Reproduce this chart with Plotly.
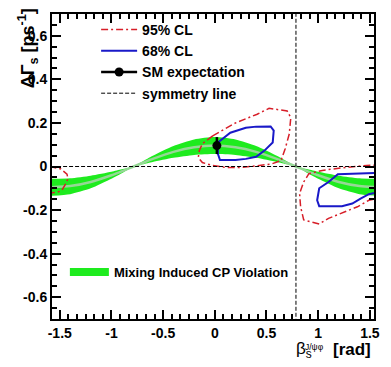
import plotly.graph_objects as go

# ---- data ----
beta_band = [-1.6, -1.4, -1.2, -1.0, -0.9, -0.785, -0.7, -0.6, -0.4, -0.2, 0.0,
             0.2, 0.4, 0.6, 0.7, 0.785, 0.9, 1.0, 1.2, 1.4, 1.6]
band_upper = [-0.057, -0.054, -0.042, -0.024, -0.013, 0.0, 0.023, 0.049, 0.094, 0.124, 0.135,
              0.124, 0.094, 0.049, 0.023, 0.0, -0.013, -0.024, -0.042, -0.054, -0.057]
band_lower = [-0.135, -0.127, -0.100, -0.056, -0.031, 0.0, 0.010, 0.021, 0.040, 0.053, 0.057,
              0.053, 0.040, 0.021, 0.010, 0.0, -0.031, -0.056, -0.100, -0.127, -0.135]
band_center = [-0.096, -0.090, -0.071, -0.040, -0.022, 0.0, 0.016, 0.035, 0.067, 0.088, 0.096,
               0.088, 0.067, 0.035, 0.016, 0.0, -0.022, -0.040, -0.071, -0.090, -0.096]

cl68_x = [0.03, 0.15, 0.30, 0.40, 0.54, 0.57, 0.56, 0.48, 0.40, 0.30, 0.20, 0.05, 0.03, 0.03, None,
          1.65, 1.49, 1.19, 1.10, 1.01, 0.99, 1.01, 1.23, 1.33, 1.41, 1.49, 1.65]
cl68_y = [0.11, 0.155, 0.178, 0.183, 0.184, 0.165, 0.11, 0.073, 0.045, 0.035, 0.030, 0.030, 0.058, 0.11, None,
          -0.028, -0.030, -0.036, -0.071, -0.10, -0.155, -0.182, -0.182, -0.17, -0.147, -0.127, -0.11]

cl95_x = [-0.02, 0.10, 0.20, 0.41, 0.525, 0.70, 0.735, 0.72, 0.68, 0.64, 0.55, 0.40, 0.24, 0.11,
          -0.025, -0.12, -0.16, -0.15, -0.12, -0.02, None,
          1.65, 1.47, 1.23, 1.04, 0.91, 0.86, 0.82, 0.83, 0.86, 1.01, 1.10, 1.26, 1.38, 1.49, 1.65, None,
          -1.60, -1.49, -1.43, -1.42, -1.45, -1.48, -1.52, -1.65]
cl95_y = [0.141, 0.175, 0.20, 0.24, 0.267, 0.255, 0.224, 0.149, 0.08, 0.027, 0.012, 0.003, -0.005, -0.005,
          0.005, 0.018, 0.041, 0.073, 0.105, 0.141, None,
          0.008, 0.005, -0.006, -0.018, -0.033, -0.071, -0.124, -0.185, -0.245, -0.264, -0.238, -0.208, -0.185, -0.155, -0.14, None,
          0.0, -0.011, -0.035, -0.056, -0.086, -0.109, -0.118, -0.125]

sm_beta = [0.02]
sm_dgamma = [0.096]
sm_err = [0.039]

sym_beta = 0.785
sym_x = [sym_beta, sym_beta, None, -1.7, 1.7]
sym_y = [-0.8, 0.8, None, 0.0, 0.0]

x_tickvals = [-1.5, -1.0, -0.5, 0.0, 0.5, 1.0, 1.5]
x_ticktext = ["-1.5", "-1", "-0.5", "0", "0.5", "1", "1.5"]
y_tickvals = [-0.6, -0.4, -0.2, 0.0, 0.2, 0.4, 0.6]
y_ticktext = ["-0.6", "-0.4", "-0.2", "0", "0.2", "0.4", "0.6"]

GREEN = "rgb(30,235,30)"
RED = "rgb(215,30,40)"
BLUE = "rgb(25,25,200)"
FONT = "Liberation Sans, Arial, sans-serif"

fig = go.Figure()

# band
fig.add_trace(go.Scatter(x=beta_band, y=band_upper, mode="lines",
                         line=dict(color=GREEN, width=0, shape="spline", smoothing=0.6),
                         showlegend=False, hoverinfo="skip"))
fig.add_trace(go.Scatter(x=beta_band, y=band_lower, mode="lines", fill="tonexty",
                         fillcolor=GREEN,
                         line=dict(color=GREEN, width=0, shape="spline", smoothing=0.6),
                         showlegend=False, hoverinfo="skip"))
fig.add_trace(go.Scatter(x=beta_band, y=band_center, mode="lines",
                         line=dict(color="rgb(150,215,150)", width=2.5, shape="spline", smoothing=0.6),
                         showlegend=False, hoverinfo="skip"))

# contours
fig.add_trace(go.Scatter(x=cl95_x, y=cl95_y, mode="lines", name="95% CL",
                         line=dict(color=RED, width=1.5, dash="7px,3px,2px,3px"),
                         legend="legend"))
fig.add_trace(go.Scatter(x=cl68_x, y=cl68_y, mode="lines", name="68% CL",
                         line=dict(color=BLUE, width=2), legend="legend"))

# SM expectation
fig.add_trace(go.Scatter(x=sm_beta, y=sm_dgamma, mode="lines+markers", name="SM expectation",
                         line=dict(color="black", width=2.5),
                         marker=dict(color="black", size=9),
                         error_y=dict(type="data", array=sm_err, color="black", thickness=2.5, width=0),
                         legend="legend"))

# symmetry line
fig.add_trace(go.Scatter(x=sym_x, y=sym_y, mode="lines", name="symmetry line",
                         line=dict(color="black", width=1, dash="4px,2px"), legend="legend"))

# legend-only entry for the band
fig.add_trace(go.Scatter(x=[None], y=[None], mode="lines", name="Mixing Induced CP Violation",
                         line=dict(color=GREEN, width=8), legend="legend2"))

axis_common = dict(showline=True, linewidth=2, linecolor="black", mirror="allticks",
                   ticks="inside", ticklen=9, tickwidth=1.5, tickcolor="black",
                   showgrid=False, zeroline=False,
                   tickfont=dict(family=FONT, size=14, color="black", weight="bold"))

fig.update_xaxes(range=[-1.575, 1.54], tickmode="array", tickvals=x_tickvals, ticktext=x_ticktext,
                 minor=dict(ticks="inside", ticklen=5, tickwidth=1.5, tickcolor="black",
                            dtick=1/12, tick0=0, showgrid=False),
                 **axis_common)
fig.update_yaxes(range=[-0.7, 0.7], tickmode="array", tickvals=y_tickvals, ticktext=y_ticktext,
                 minor=dict(ticks="inside", ticklen=5, tickwidth=1.5, tickcolor="black",
                            dtick=0.05, tick0=0, showgrid=False),
                 **axis_common)

fig.update_layout(
    width=383, height=359,
    margin=dict(l=44, r=17, t=4, b=48),
    paper_bgcolor="white", plot_bgcolor="white",
    font=dict(family=FONT, color="black"),
    legend=dict(x=0.137, y=1.0, xanchor="left", yanchor="top", traceorder="normal",
                itemwidth=36,
                bgcolor="rgba(0,0,0,0)", borderwidth=0, tracegroupgap=0,
                font=dict(family=FONT, size=14, color="black", weight="bold")),
    legend2=dict(x=0.04, y=0.203, xanchor="left", yanchor="top", itemwidth=39,
                 bgcolor="rgba(0,0,0,0)", borderwidth=0,
                 font=dict(family=FONT, size=13, color="black", weight="bold")),
    annotations=[
        dict(text="ΔΓ<sub>s</sub> [ps<sup>-1</sup>]", xref="paper", yref="paper",
             x=-0.075, y=1.025, xanchor="center", yanchor="top", textangle=-90, showarrow=False,
             font=dict(family=FONT, size=18, color="black", weight="bold")),
        dict(text="β<sub>s</sub>", xref="paper", yref="paper",
             x=0.752, y=-0.101, xanchor="left", yanchor="middle", showarrow=False,
             font=dict(family=FONT, size=17, color="black")),
        dict(text="J/ψφ", xref="paper", yref="paper",
             x=0.78, y=-0.092, xanchor="left", yanchor="middle", showarrow=False,
             font=dict(family=FONT, size=8.5, color="black")),
        dict(text="[rad]", xref="paper", yref="paper",
             x=0.996, y=-0.101, xanchor="right", yanchor="middle", showarrow=False,
             font=dict(family=FONT, size=17, color="black", weight="bold")),
    ],
)

fig.write_html("out.html")
